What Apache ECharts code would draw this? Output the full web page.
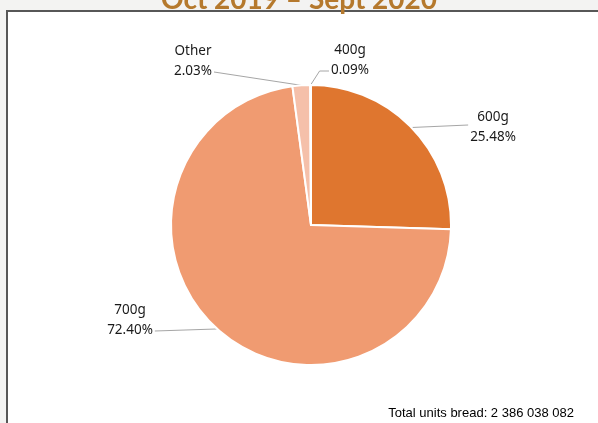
<!DOCTYPE html>
<html>
<head>
<meta charset="utf-8">
<script src="https://cdn.jsdelivr.net/npm/echarts@6/dist/echarts.min.js"></script>
<style>
  html, body { margin: 0; padding: 0; background: #f3f3f2; }
  #main { width: 598px; height: 423px; }
</style>
</head>
<body>
<div id="main"></div>
<script>
// bread sales share by loaf weight
const names = ['600g', '700g', 'Other', '400g'];
const shares = [25.48, 72.40, 2.03, 0.09];
const colors = ['#df762f', '#f09b71', '#f5c0aa', '#ea9e78'];
const titleText = 'Oct 2019 \u2013 Sept 2020';
const totalText = 'Total units bread: 2 386 038 082';

// centre of each label block, same order as names
const labelPos = [
  [493, 127],
  [130, 320],
  [193, 61],
  [350, 60]
];
// which side of the label the guide line meets, and at what height offset
const lineSide = [['left', -2], ['right', 11], ['right', 11], ['left', 11]];

const chart = echarts.init(document.getElementById('main'));

const data = names.map((n, i) => ({
  name: n,
  value: shares[i],
  itemStyle: { color: colors[i] }
}));

chart.setOption({
  backgroundColor: 'transparent',
  animation: false,
  graphic: [
    {
      type: 'rect',
      z: -10,
      shape: { x: 7, y: 11, width: 620, height: 430 },
      style: { fill: '#fff', stroke: '#575757', lineWidth: 2 }
    },
    {
      type: 'text',
      left: 'center',
      top: -14,
      style: {
        text: titleText,
        fill: '#b5792d',
        font: 'bold 28px Lato, "Noto Sans", sans-serif'
      }
    },
    {
      type: 'text',
      right: 24,
      bottom: 3,
      style: {
        text: totalText,
        fill: '#000',
        font: '13px "Liberation Sans", Arial, sans-serif'
      }
    }
  ],
  series: [{
    type: 'pie',
    center: [311, 225],
    radius: 140,
    startAngle: 90,
    clockwise: true,
    minAngle: 0,
    avoidLabelOverlap: false,
    itemStyle: { borderColor: '#fff', borderWidth: 2 },
    emphasis: { disabled: true },
    label: {
      show: true,
      position: 'outside',
      color: '#1a1a1a',
      fontFamily: '"Noto Sans", sans-serif',
      fontSize: 13.5,
      lineHeight: 20,
      align: 'center',
      formatter: p => p.name + '\n' + p.value.toFixed(2) + '%'
    },
    labelLine: {
      show: true,
      length: 10,
      length2: 10,
      lineStyle: { color: '#a6a6a6', width: 1 }
    },
    labelLayout: params => {
      const i = params.dataIndex;
      const pos = labelPos[i];
      const w = params.labelRect.width;
      const start = params.labelLinePoints[0];
      const side = lineSide[i];
      const ex = side[0] === 'left' ? pos[0] - w / 2 - 2 : pos[0] + w / 2 + 2;
      const ey = pos[1] + side[1];
      let pts;
      if (i === 3) {
        pts = [start, [start[0] + 9, ey], [ex, ey]];
      } else {
        pts = [start, start, [ex, ey]];
      }
      return {
        x: pos[0],
        y: pos[1],
        align: 'center',
        verticalAlign: 'middle',
        labelLinePoints: pts
      };
    },
    data: data
  }]
});
</script>
</body>
</html>
